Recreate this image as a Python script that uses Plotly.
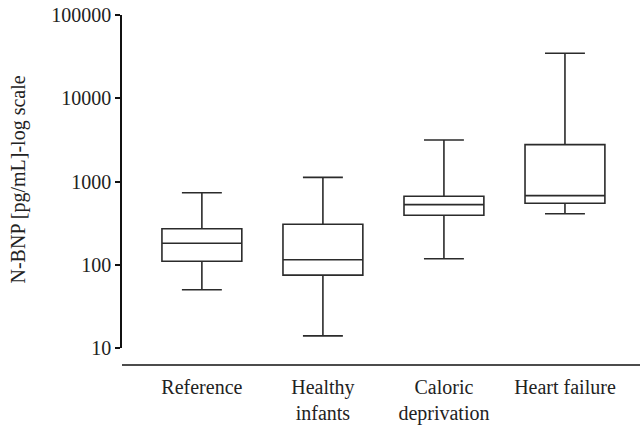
import plotly.graph_objects as go

categories = ["Reference", "Healthy<br>infants", "Caloric<br>deprivation", "Heart failure"]
lower_whisker = [50, 14, 118, 410]
q1_values = [110, 75, 393, 547]
medians = [181, 115, 527, 676]
q3_values = [271, 306, 664, 2770]
upper_whisker = [733, 1120, 3150, 34700]
y_tick_values = [10, 100, 1000, 10000, 100000]
y_tick_labels = ["10", "100", "1000", "10000", "100000"]
y_title = "N-BNP [pg/mL]-log scale"

FONT = "Liberation Serif"
LINE = "#2b2b2b"

fig = go.Figure()
fig.add_trace(go.Box(
    x=categories,
    q1=q1_values,
    median=medians,
    q3=q3_values,
    lowerfence=lower_whisker,
    upperfence=upper_whisker,
    fillcolor="white",
    line=dict(color=LINE, width=1.6),
    width=0.66,
    whiskerwidth=0.5,
    boxpoints=False,
    hoverinfo="skip",
    showlegend=False,
))

fig.update_layout(
    width=641, height=425,
    margin=dict(l=122, r=1, t=15, b=77),
    paper_bgcolor="white", plot_bgcolor="white",
    font=dict(family=FONT, size=20, color="#222"),
    showlegend=False,
    xaxis=dict(
        type="category",
        range=[-0.66, 3.62],
        showline=False, showgrid=False, zeroline=False,
        ticks="", ticklabelstandoff=25,
        tickfont=dict(family=FONT, size=20, color="#222"),
    ),
    yaxis=dict(
        type="log",
        range=[1, 5],
        tickvals=y_tick_values,
        ticktext=y_tick_labels,
        showline=True, linecolor="#111", linewidth=1.5,
        ticks="outside", ticklen=5, tickwidth=1.5, tickcolor="#111",
        showgrid=False, zeroline=False,
        tickfont=dict(family=FONT, size=20, color="#222"),
    ),
)

fig.add_annotation(text=y_title, xref="paper", yref="paper", x=0, y=0.5,
                   xanchor="center", yanchor="middle", xshift=-104, yshift=2,
                   textangle=-90, showarrow=False,
                   font=dict(family=FONT, size=20, color="#222"))

# detached x-axis baseline below the y-axis
fig.add_shape(type="line", xref="paper", yref="paper",
              x0=0, x1=1, y0=-0.051, y1=-0.051,
              line=dict(color="#111", width=1.5))

fig.write_html("out.html", config={"responsive": False, "displayModeBar": False},
               post_script="document.body.style.margin='0';document.body.style.overflow='hidden';")
